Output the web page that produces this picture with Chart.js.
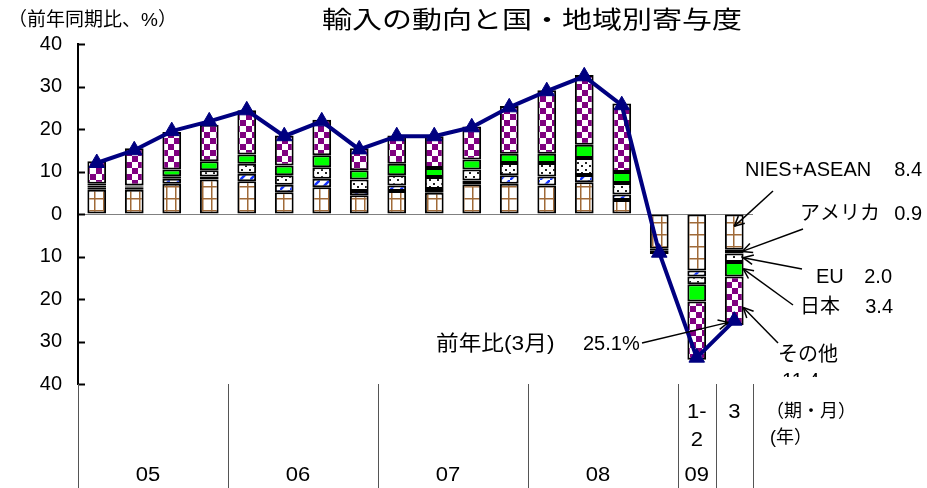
<!DOCTYPE html>
<html>
<head>
<meta charset="utf-8">
<script src="https://cdn.jsdelivr.net/npm/chart.js@4.4.1/dist/chart.umd.min.js"></script>
<style>
  html, body { margin: 0; padding: 0; background: #fff; }
  #chart { display: block; }
</style>
</head>
<body>
<canvas id="chart" width="927" height="488"></canvas>
<script>
// Quarters 2005-2008, then 2009 Jan-Feb and Mar
const categories = [
  "05Q1", "05Q2", "05Q3", "05Q4",
  "06Q1", "06Q2", "06Q3", "06Q4",
  "07Q1", "07Q2", "07Q3", "07Q4",
  "08Q1", "08Q2", "08Q3", "08Q4",
  "09M1-2", "09M3"
];
const yearLabels = ["05", "06", "07", "08", "09"];
const yearSpans = [4, 4, 4, 4, 2];
const monthLabels = [["1-", "2"], ["3"]];

const seriesNames = ["NIES+ASEAN", "アメリカ", "EU", "日本", "その他"];
const niesAsean = [5.7, 5.7, 7.1, 8.1, 7.7, 5.1, 6.3, 4.4, 5.4, 5.0, 7.0, 7.1, 6.7, 7.5, 3.3, -8.2, -13.3, -8.4];
const usa       = [0.5, 0.6, 1.2, 0.7, 1.8, 1.8, 2.0, 1.0, 1.3, 0.9, 0.9, 2.0, 2.1, 1.7, 1.3, -0.3, -1.4, -0.9];
const eu        = [0.5, 0.2, 0.6, 1.5, 2.3, 2.2, 2.7, 2.7, 2.4, 2.8, 2.6, 2.9, 3.2, 4.0, 2.7, -0.2, -1.8, -2.0];
const japan     = [0.4, 0.2, 1.6, 2.1, 2.2, 2.3, 2.8, 2.2, 2.7, 2.1, 2.3, 2.2, 2.2, 3.1, 2.6, -0.5, -4.1, -3.4];
const others    = [5.3, 8.8, 8.8, 8.6, 10.4, 7.1, 8.4, 5.2, 6.7, 7.5, 7.8, 11.2, 14.9, 16.4, 16.1, -0.2, -13.7, -11.4];
const totalYoY  = [12.0, 15.0, 19.5, 21.8, 24.4, 18.3, 21.8, 15.2, 18.3, 18.3, 20.4, 25.1, 28.9, 32.4, 25.6, -9.1, -33.8, -25.1];

const yMin = -40;
const yMax = 40;
const yStep = 10;

const chartTitle = "輸入の動向と国・地域別寄与度";
const yUnitLabel = "（前年同期比、%）";
const lineLabel = "前年比(3月)";
const periodLabel = "（期・月）";
const yearLabel = "(年）";

const FONT = "'Liberation Sans', 'Noto Sans CJK JP', sans-serif";

const canvas = document.getElementById("chart");
const mainCtx = canvas.getContext("2d");

/**
 * Build a repeating fill pattern from a small canvas.
 */
function makePattern(w, h, paint) {
  const tile = document.createElement("canvas");
  tile.width = w;
  tile.height = h;
  const g = tile.getContext("2d");
  g.fillStyle = "#fff";
  g.fillRect(0, 0, w, h);
  paint(g, w, h);
  return mainCtx.createPattern(tile, "repeat");
}

const gridPattern = makePattern(9, 12, (g) => {
  g.fillStyle = "#a06a38";
  g.fillRect(4, 0, 1.5, 12);
  g.fillRect(0, 6, 9, 1.5);
});

const hatchPattern = makePattern(10, 10, (g) => {
  g.strokeStyle = "#1030ff";
  g.lineWidth = 2.5;
  g.beginPath();
  g.moveTo(-2, 12); g.lineTo(12, -2);
  g.stroke();
});

const dotPattern = makePattern(8, 7, (g) => {
  g.fillStyle = "#222";
  g.fillRect(1, 1, 2, 2);
  g.fillRect(5, 4, 2, 2);
});

const checkPattern = makePattern(12, 12, (g) => {
  g.fillStyle = "#800080";
  g.fillRect(0, 0, 6, 6);
  g.fillRect(6, 6, 6, 6);
});

const seriesData = [niesAsean, usa, eu, japan, others];
const seriesFills = [gridPattern, hatchPattern, dotPattern, "#00ff00", checkPattern];

function drawText(ctx, s, x, y, size, align, sx) {
  ctx.save();
  ctx.font = size + "px " + FONT;
  ctx.textBaseline = "middle";
  ctx.textAlign = align;
  ctx.translate(x, y);
  ctx.scale(sx || 1, 1);
  ctx.fillText(s, 0, 0);
  ctx.restore();
}

function drawLine(ctx, x1, y1, x2, y2) {
  ctx.beginPath();
  ctx.moveTo(x1, y1);
  ctx.lineTo(x2, y2);
  ctx.stroke();
}

function drawArrow(ctx, x1, y1, x2, y2) {
  drawLine(ctx, x1, y1, x2, y2);
  const ang = Math.atan2(y2 - y1, x2 - x1);
  const len = 11;
  const spread = 0.45;
  drawLine(ctx, x2, y2, x2 - len * Math.cos(ang - spread), y2 - len * Math.sin(ang - spread));
  drawLine(ctx, x2, y2, x2 - len * Math.cos(ang + spread), y2 - len * Math.sin(ang + spread));
}

const decorPlugin = {
  id: "decor",
  afterDraw(chart) {
    const ctx = chart.ctx;
    const xs = chart.scales.x;
    const ys = chart.scales.y;
    const area = chart.chartArea;
    const H = chart.height;
    const last = categories.length - 1;

    ctx.save();
    ctx.fillStyle = "#000";

    // Title and unit
    drawText(ctx, chartTitle, 532, 21, 24, "center", 1.25);
    drawText(ctx, yUnitLabel, 8, 21, 19, "left", 1);

    // Tick marks pointing into the plot
    ctx.strokeStyle = "#000";
    ctx.lineWidth = 2;
    ys.ticks.forEach((t) => {
      const y = Math.round(ys.getPixelForValue(t.value)) + 0.5;
      drawLine(ctx, area.left, y, area.left + 7, y);
    });

    // Category separators under the plot
    const half = (xs.getPixelForValue(1) - xs.getPixelForValue(0)) / 2;
    ctx.strokeStyle = "#555";
    ctx.lineWidth = 1;
    let idx = 0;
    const edges = [0];
    yearSpans.forEach((n) => {
      if (n === 2) {
        edges.push(idx + 1);
      }
      idx += n;
      edges.push(idx);
    });
    edges.forEach((e) => {
      const x = Math.round(xs.getPixelForValue(e) - half) + 0.5;
      drawLine(ctx, x, area.bottom, x, H);
    });

    // Year labels
    idx = 0;
    yearLabels.forEach((lab, i) => {
      let x;
      if (yearSpans[i] >= 4) {
        x = (xs.getPixelForValue(idx) + xs.getPixelForValue(idx + yearSpans[i] - 1)) / 2 - 5;
      } else {
        x = xs.getPixelForValue(idx);
      }
      drawText(ctx, lab, x, 475, 20, "center", 1.1);
      idx += yearSpans[i];
    });

    // Month labels for 2009
    monthLabels.forEach((lines, i) => {
      const x = xs.getPixelForValue(last - 1 + i);
      lines.forEach((s, j) => {
        drawText(ctx, s, x, 412 + j * 28, 20, "center", 1.1);
      });
    });
    drawText(ctx, periodLabel, 766, 412, 18, "left", 1);
    drawText(ctx, yearLabel, 770, 438, 18, "left", 1);

    // Callouts for the last bar
    const bx = xs.getPixelForValue(last);
    const callouts = [
      { name: [745, 170], val: [922, 170], from: [773, 191], to: [0, -2.9] },
      { name: [800, 214], val: [922, 214], from: [803, 229], to: [8, -8.8] },
      { name: [816, 277], val: [892, 277], from: [802, 269], to: [9, -10.3] },
      { name: [800, 307], val: [893, 307], from: [793, 305], to: [9, -12.9] },
      { name: [778, 355], val: [782, 381], from: [778, 343], to: [9, -22.0] }
    ];
    ctx.strokeStyle = "#000";
    ctx.lineWidth = 1.5;
    callouts.forEach((c, i) => {
      const valStr = Math.abs(seriesData[i][last]).toFixed(1);
      drawText(ctx, seriesNames[i], c.name[0], c.name[1], 20, "left", 1);
      if (i === callouts.length - 1) {
        // value sits below the frame and is cut off
        ctx.save();
        ctx.beginPath();
        ctx.rect(0, 0, chart.width, 377);
        ctx.clip();
        drawText(ctx, valStr, c.val[0], c.val[1], 20, "left", 1);
        ctx.restore();
      } else {
        drawText(ctx, valStr, c.val[0], c.val[1], 20, "right", 1);
      }
      drawArrow(ctx, c.from[0], c.from[1], bx + c.to[0], ys.getPixelForValue(c.to[1]));
    });

    // Line callout
    drawText(ctx, lineLabel, 436, 344, 21, "left", 1.08);
    drawText(ctx, Math.abs(totalYoY[last]).toFixed(1) + "%", 583, 344, 20, "left", 1);
    drawArrow(ctx, 642, 343, bx - 6, ys.getPixelForValue(-25.5));

    ctx.restore();
  }
};

const barSets = seriesNames.map((name, i) => ({
  type: "bar",
  label: name,
  data: seriesData[i],
  backgroundColor: seriesFills[i],
  borderColor: "#000",
  borderWidth: 2,
  borderSkipped: false,
  barPercentage: 0.5,
  categoryPercentage: 1.0,
  stack: "regions",
  order: 1
}));

new Chart(mainCtx, {
  data: {
    labels: categories,
    datasets: [
      {
        type: "line",
        label: "前年比",
        data: totalYoY,
        borderColor: "#000080",
        borderWidth: 4,
        pointStyle: "triangle",
        pointRadius: 9,
        pointBackgroundColor: "#000080",
        pointBorderColor: "#000080",
        pointBorderWidth: 1,
        tension: 0,
        stack: "total",
        order: 0
      }
    ].concat(barSets)
  },
  options: {
    responsive: false,
    animation: false,
    devicePixelRatio: 1,
    layout: {
      padding: { left: 0, right: 174, top: 44, bottom: 104 }
    },
    plugins: {
      legend: { display: false },
      tooltip: { enabled: false },
      title: { display: false }
    },
    scales: {
      x: {
        stacked: true,
        display: false
      },
      y: {
        stacked: true,
        min: yMin,
        max: yMax,
        afterFit: (scale) => { scale.width = 78; },
        ticks: {
          stepSize: yStep,
          color: "#000",
          padding: 16,
          font: { family: FONT, size: 20 },
          callback: (v) => Math.abs(v)
        },
        grid: {
          drawTicks: false,
          lineWidth: 1,
          color: (c) => (c.tick && c.tick.value === 0 ? "#808080" : "rgba(0,0,0,0)")
        },
        border: { display: true, color: "#000", width: 2 }
      }
    }
  },
  plugins: [decorPlugin]
});
</script>
</body>
</html>
